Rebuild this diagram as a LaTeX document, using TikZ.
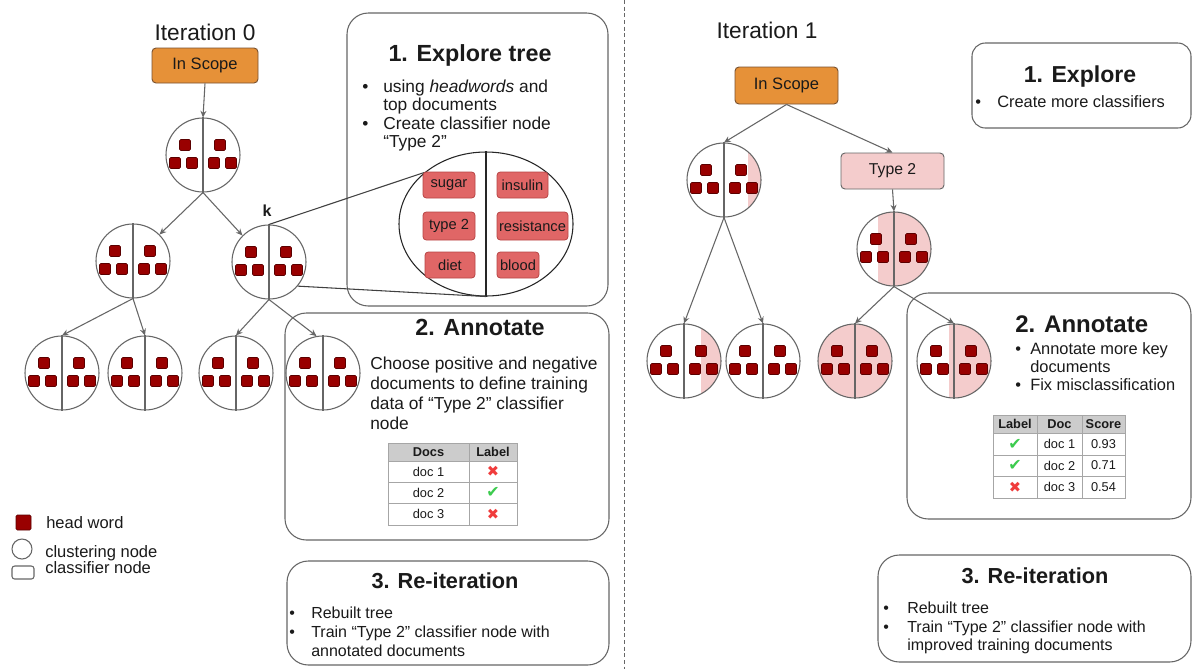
\documentclass[tikz,border=0pt]{standalone}
\usepackage{fontspec}
\setmainfont{Liberation Sans}
\newfontfamily\symfont{DejaVu Sans}
\usetikzlibrary{shapes.geometric,arrows.meta,calc}
\definecolor{linec}{HTML}{666666}
\definecolor{textc}{HTML}{1A1A1A}
\definecolor{orangef}{HTML}{E69138}
\definecolor{oranged}{HTML}{7A5230}
\definecolor{pinkc}{HTML}{F4CCCC}
\definecolor{wfill}{HTML}{E06666}
\definecolor{wborder}{HTML}{B84545}
\definecolor{hwred}{HTML}{990000}
\definecolor{hwdark}{HTML}{5B0000}
\definecolor{theadc}{HTML}{CCCCCC}
\definecolor{gridc}{HTML}{A6A6A6}
\definecolor{checkg}{HTML}{3CCB4E}
\definecolor{crossr}{HTML}{F03C3C}
\newcommand\fsz[1]{\fontsize{#1pt}{#1pt}\selectfont}
\tikzset{
  ln/.style={draw=linec, line width=0.8pt},
  arr/.style={ln, -{Stealth[length=5pt,width=4.5pt]}},
  cl/.style={circle, draw=linec, line width=0.8pt, minimum size=55.5pt, inner sep=0pt},
  txt/.style={anchor=base west, inner sep=0pt, text=textc},
  ctxt/.style={anchor=base, inner sep=0pt, text=textc},
  panel/.style={draw=linec, line width=0.8pt, rounded corners=16pt},
  wbox/.style={draw=wborder, fill=wfill, rounded corners=2.5pt, line width=0.6pt, inner sep=0pt, text=textc, font=\fsz{11}},
  hwsq/.style={fill=hwred, draw=hwdark, line width=0.4pt, rounded corners=1pt},
  grid/.style={draw=gridc, line width=0.6pt},
  cell/.style={inner sep=0pt, text=textc, font=\fsz{9.6}},
  hcell/.style={cell, font=\bfseries\fsz{9.6}},
  okmark/.style={inner sep=0pt, text=checkg, font=\symfont\fsz{12}},
  nomark/.style={inner sep=0pt, text=crossr, font=\symfont\fsz{11}},
}
\newcommand\clusternode[4]{%
  \begin{scope}
    \clip (#2,#3) circle[radius=27.75pt];
    #4
  \end{scope}
  \node[cl] (#1) at (#2,#3) {};
  \draw[ln] (#1.north) -- (#1.south);
  \foreach \dx/\dy in {-18/-10,-28/8,-11/8,17/-10,11/8,28/8}
    \filldraw[hwsq] ($(#1)+(\dx-5.5,\dy-5.5)$) rectangle ++(11,11);
}
\begin{document}
\begin{tikzpicture}[x=0.75pt,y=-0.75pt]
\fill[white] (0,0) rectangle (1193,669);
\useasboundingbox (0,0) rectangle (1193,669);

% divider
\draw[draw=linec, line width=0.7pt, dash pattern=on 3pt off 2pt] (624,0) -- (624,669);

% ================= LEFT: Iteration 0 =================
\node[ctxt, font=\fsz{17}] (it0) at (205,40) {Iteration 0};
\node[draw=oranged, fill=orangef, rounded corners=3pt, line width=0.7pt, minimum width=79.5pt, minimum height=26.25pt, inner sep=0pt, text=textc, font=\fsz{12.4}] (isL) at (205,65.5) {In Scope};

% panels
\draw[panel] (347,13) rectangle (608,306);
\draw[panel] (285,313) rectangle (609,540);
\draw[panel] (287,561) rectangle (609,665);

\clusternode{L0}{203}{155}{}
\clusternode{L1a}{133}{261}{}
\clusternode{L1b}{269}{262}{}
\clusternode{L2a}{62}{373}{}
\clusternode{L2b}{145}{373}{}
\clusternode{L2c}{236}{373}{}
\clusternode{L2d}{323}{373}{}

\draw[arr] (isL.south) -- (L0.north);
\draw[arr] (L0.south) -- (L1a.45);
\draw[arr] (L0.south) -- (L1b.135);
\draw[arr] (L1a.south) -- (L2a.north);
\draw[arr] (L1a.south) -- (L2b.north);
\draw[arr] (L1b.south) -- (L2c.north);
\draw[arr] (L1b.south) -- (L2d.100);

\node[inner sep=0pt, text=textc, font=\bfseries\fsz{12}] (klab) at (267,211) {k};

% Explore tree panel
\node[ctxt, font=\bfseries\fsz{17.5}] (h1) at (470,61) {1. Explore tree};
\node[txt, font=\fsz{13}] (e1b) at (362,92) {•};
\node[txt, font=\fsz{13}] (e1) at (383,92) {using \textit{headwords} and};
\node[txt, font=\fsz{13}] (e2) at (383,110) {top documents};
\node[txt, font=\fsz{13}] (e3b) at (362,129) {•};
\node[txt, font=\fsz{13}] (e3) at (383,129) {Create classifier node};
\node[txt, font=\fsz{13}] (e4) at (383,147) {“Type 2”};

% magnified cluster
\node[ellipse, draw=black!85, line width=0.8pt, minimum width=130.5pt, minimum height=108pt, inner sep=0pt] (zE) at (486,224) {};
\draw[draw=black!85, line width=0.8pt] (zE.north) -- (zE.south);
\draw[draw=black!75, line width=0.8pt] (L1b.north) -- (zE.140);
\draw[draw=black!75, line width=0.8pt] (L1b.-40) -- (zE.south);
\node[wbox, minimum width=39pt, minimum height=19.5pt] (w1) at (449,185) {sugar};
\node[wbox, minimum width=38.25pt, minimum height=19.5pt] (w2) at (522.5,185) {insulin};
\node[wbox, minimum width=39pt, minimum height=21pt] (w3) at (449,226) {type 2};
\node[wbox, minimum width=53.25pt, minimum height=21pt] (w4) at (532.5,226) {resistance};
\node[wbox, minimum width=37.5pt, minimum height=19.5pt] (w5) at (450,265) {diet};
\node[wbox, minimum width=31.5pt, minimum height=19.5pt] (w6) at (518,265) {blood};

% Annotate panel (left)
\node[ctxt, font=\bfseries\fsz{17.5}] (h2) at (480,335) {2. Annotate};
\node[txt, font=\fsz{13}] (a1) at (370,369) {Choose positive and negative};
\node[txt, font=\fsz{13}] (a2) at (370,389) {documents to define training};
\node[txt, font=\fsz{13}] (a3) at (370,409) {data of “Type 2” classifier};
\node[txt, font=\fsz{13}] (a4) at (370,429) {node};

\fill[theadc] (388,443) rectangle (517,461);
\draw[grid] (388,443) rectangle (517,525);
\draw[grid] (388,461) -- (517,461);
\draw[grid] (388,482) -- (517,482);
\draw[grid] (388,503) -- (517,503);
\draw[grid] (469,443) -- (469,525);
\node[hcell] (lth1) at (428.5,452) {Docs};
\node[hcell] (lth2) at (493,452) {Label};
\node[cell] (ltd1) at (428.5,471.5) {doc 1};
\node[cell] (ltd2) at (428.5,492.5) {doc 2};
\node[cell] (ltd3) at (428.5,514) {doc 3};
\node[nomark] (ltl1) at (493,471.5) {✖};
\node[okmark] (ltl2) at (493,492.5) {✔};
\node[nomark] (ltl3) at (493,514) {✖};

% Re-iteration panel (left)
\node[ctxt, font=\bfseries\fsz{16.3}] (h3) at (445,588) {3. Re-iteration};
\node[txt, font=\fsz{12}] (r1b) at (289,618) {•};
\node[txt, font=\fsz{12}] (r1) at (311,618) {Rebuilt tree};
\node[txt, font=\fsz{12}] (r2b) at (289,637) {•};
\node[txt, font=\fsz{12}] (r2) at (311,637) {Train “Type 2” classifier node with};
\node[txt, font=\fsz{12}] (r3) at (311,656) {annotated documents};

% legend
\filldraw[hwsq] (16,515) rectangle (31,530);
\node[txt, font=\fsz{12.4}] (lg1) at (46,528) {head word};
\draw[ln] (22,549) circle[radius=7.5pt];
\node[txt, font=\fsz{12.4}] (lg2) at (45,557) {clustering node};
\draw[ln, rounded corners=2pt] (12,566) rectangle (34,579);
\node[txt, font=\fsz{12.4}] (lg3) at (45,573) {classifier node};

% ================= RIGHT: Iteration 1 =================
\node[ctxt, font=\fsz{17}] (it1) at (767,38) {Iteration 1};
\node[draw=oranged, fill=orangef, rounded corners=3pt, line width=0.7pt, minimum width=77.25pt, minimum height=27.75pt, inner sep=0pt, text=textc, font=\fsz{12.4}] (isR) at (786.5,85.5) {In Scope};
\node[draw=linec, fill=pinkc, rounded corners=3pt, line width=0.7pt, minimum width=77.25pt, minimum height=27pt, inner sep=0pt, text=textc, font=\fsz{11.8}] (t2) at (892.5,171) {Type 2};

\draw[panel, rounded corners=10pt] (972,43) rectangle (1191,128);
\draw[panel] (907,293) rectangle (1191,519);
\draw[panel] (878,555) rectangle (1191,662);

\clusternode{R1}{724}{180}{\fill[pinkc] (748,140) rectangle (765,220);}
\clusternode{R2}{894}{249}{\fill[pinkc] (878,210) rectangle (935,290);}
\clusternode{R3}{684}{361}{\fill[pinkc] (701,320) rectangle (725,400);}
\clusternode{R4}{763}{361}{}
\clusternode{R5}{855}{361}{\fill[pinkc] (815,320) rectangle (895,400);}
\clusternode{R6}{954}{361}{\fill[pinkc] (949,320) rectangle (995,400);}

\draw[arr] (isR.south) -- (R1.north);
\draw[arr] (isR.south) -- (t2.north);
\draw[arr] (t2.south) -- (R2.north);
\draw[arr] (R1.south) -- (R3.north);
\draw[arr] (R1.south) -- (R4.north);
\draw[arr] (R2.south) -- (R5.north);
\draw[arr] (R2.south) -- (R6.north);

% Explore (right)
\node[ctxt, font=\bfseries\fsz{17.3}] (h1r) at (1080,82) {1. Explore};
\node[txt, font=\fsz{12.3}] (x1b) at (975,107) {•};
\node[txt, font=\fsz{12.3}] (x1) at (997,107) {Create more classifiers};

% Annotate (right)
\node[txt, font=\bfseries\fsz{18}] (h2r) at (1015,332) {2. Annotate};
\node[txt, font=\fsz{12.3}] (n1b) at (1015,354) {•};
\node[txt, font=\fsz{12.3}] (n1) at (1030,354) {Annotate more key};
\node[txt, font=\fsz{12.3}] (n2) at (1030,372) {documents};
\node[txt, font=\fsz{12.3}] (n3b) at (1015,390) {•};
\node[txt, font=\fsz{12.3}] (n3) at (1030,390) {Fix misclassification};

\fill[theadc] (993,415) rectangle (1125,433);
\draw[grid] (993,415) rectangle (1125,498);
\draw[grid] (993,433) -- (1125,433);
\draw[grid] (993,455) -- (1125,455);
\draw[grid] (993,476) -- (1125,476);
\draw[grid] (1037,415) -- (1037,498);
\draw[grid] (1082,415) -- (1082,498);
\node[hcell] (rth1) at (1015,424) {Label};
\node[hcell] (rth2) at (1059.5,424) {Doc};
\node[hcell] (rth3) at (1103.5,424) {Score};
\node[okmark] (rtl1) at (1015,444) {✔};
\node[okmark] (rtl2) at (1015,465.5) {✔};
\node[nomark] (rtl3) at (1015,487) {✖};
\node[cell] (rtd1) at (1059.5,444) {doc 1};
\node[cell] (rtd2) at (1059.5,465.5) {doc 2};
\node[cell] (rtd3) at (1059.5,487) {doc 3};
\node[cell] (rts1) at (1103.5,444) {0.93};
\node[cell] (rts2) at (1103.5,465.5) {0.71};
\node[cell] (rts3) at (1103.5,487) {0.54};

% Re-iteration (right)
\node[ctxt, font=\bfseries\fsz{16.3}] (h3r) at (1035,583) {3. Re-iteration};
\node[txt, font=\fsz{12}] (s1b) at (883,613) {•};
\node[txt, font=\fsz{12}] (s1) at (907,613) {Rebuilt tree};
\node[txt, font=\fsz{12}] (s2b) at (883,632) {•};
\node[txt, font=\fsz{12}] (s2) at (907,632) {Train “Type 2” classifier node with};
\node[txt, font=\fsz{12}] (s3) at (907,650) {improved training documents};
\end{tikzpicture}
\end{document}
